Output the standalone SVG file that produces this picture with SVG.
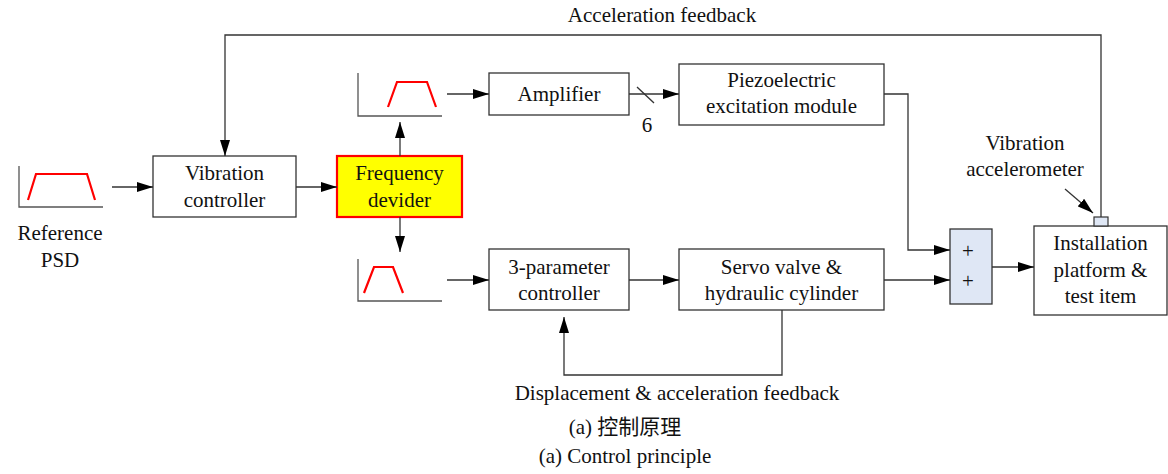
<svg xmlns="http://www.w3.org/2000/svg" width="1168" height="474" viewBox="0 0 1168 474">
  <style>
    .box { fill: #ffffff; stroke: #333333; stroke-width: 1.3; }
    .line { fill: none; stroke: #333333; stroke-width: 1.3; }
    .arrow { fill: none; stroke: #333333; stroke-width: 1.3; marker-end: url(#head); }
    .psd { fill: none; stroke: #ff0000; stroke-width: 2.2; }
    .axis { fill: none; stroke: #555555; stroke-width: 1.3; }
    text { font-family: "Liberation Serif", "Times New Roman", serif; font-size: 21px; fill: #111111; text-anchor: middle; }
    .cjk { font-family: "Liberation Serif", "Noto Sans CJK SC", serif; }
  </style>
  <defs>
    <marker id="head" viewBox="0 0 16 10" refX="16" refY="5" markerWidth="16" markerHeight="10" markerUnits="userSpaceOnUse" orient="auto">
      <path d="M0,0 L16,5 L0,10 Z" fill="#000000"/>
    </marker>
  </defs>

  <!-- reference spectrum -->
  <g id="ref-psd">
    <path class="axis" d="M19,166 V207 H103"/>
    <path class="psd" d="M28,200 L36,174 H87 L95,200"/>
    <text x="60" y="240">Reference</text>
    <text x="60" y="267">PSD</text>
  </g>

  <g id="vib-controller">
    <rect class="box" x="153" y="156" width="143" height="61"/>
    <text x="224.5" y="180">Vibration</text>
    <text x="224.5" y="207">controller</text>
  </g>

  <g id="freq-divider">
    <rect x="337" y="156" width="125" height="61" fill="#ffff00" stroke="#ff0000" stroke-width="2.2"/>
    <text x="399.5" y="180">Frequency</text>
    <text x="399.5" y="207">devider</text>
  </g>

  <g id="psd-high">
    <path class="axis" d="M358,73 V116 H442"/>
    <path class="psd" d="M388,107 L397,82 H427 L436,107"/>
  </g>

  <g id="psd-low">
    <path class="axis" d="M358,259 V301 H442"/>
    <path class="psd" d="M364,293 L374,267 H393 L403,293"/>
  </g>

  <g id="amplifier">
    <rect class="box" x="489" y="73" width="140" height="42"/>
    <text x="559" y="101">Amplifier</text>
  </g>

  <g id="piezo">
    <rect class="box" x="679" y="64" width="205" height="61"/>
    <text x="781.5" y="87">Piezoelectric</text>
    <text x="781.5" y="113">excitation module</text>
  </g>

  <g id="three-param">
    <rect class="box" x="489" y="249" width="140" height="61"/>
    <text x="559" y="274">3-parameter</text>
    <text x="559" y="300">controller</text>
  </g>

  <g id="servo">
    <rect class="box" x="679" y="249" width="205" height="61"/>
    <text x="781.5" y="274">Servo valve &amp;</text>
    <text x="781.5" y="300">hydraulic cylinder</text>
  </g>

  <g id="summer">
    <rect x="950" y="229" width="42" height="75" fill="#dfe7f5" stroke="#333333" stroke-width="1.3"/>
    <text x="968" y="258">+</text>
    <text x="968" y="288">+</text>
  </g>

  <g id="platform">
    <rect class="box" x="1034" y="226" width="133" height="89"/>
    <text x="1100.5" y="250">Installation</text>
    <text x="1100.5" y="277">platform &amp;</text>
    <text x="1100.5" y="303">test item</text>
  </g>

  <g id="accelerometer">
    <rect x="1094" y="217" width="14" height="9" fill="#dfe7f5" stroke="#333333" stroke-width="1.2"/>
    <text x="1025" y="150">Vibration</text>
    <text x="1025" y="176">accelerometer</text>
  </g>

  <g id="connectors">
    <path class="arrow" d="M112,187 H153"/>
    <path class="arrow" d="M296,187 H337"/>
    <path class="arrow" d="M400,156 V122"/>
    <path class="arrow" d="M400,217 V252"/>
    <path class="arrow" d="M447,94 H489"/>
    <path class="arrow" d="M447,280 H489"/>
    <path class="arrow" d="M629,94 H679"/>
    <path class="line" d="M637,87 L654,103"/>
    <text x="647" y="132">6</text>
    <path class="arrow" d="M629,280 H679"/>
    <path class="arrow" d="M884,94 H908 V250 H950"/>
    <path class="arrow" d="M884,280 H950"/>
    <path class="arrow" d="M992,267 H1034"/>
    <path class="arrow" d="M1101,217 V35 H225 V156"/>
    <text x="662" y="22">Acceleration feedback</text>
    <path class="arrow" d="M1065,189 L1093,213"/>
    <path class="arrow" d="M782,310 V375 H564 V317"/>
    <text x="677" y="400">Displacement &amp; acceleration feedback</text>
  </g>

  <g id="caption">
    <text class="cjk" x="625" y="434">(a) 控制原理</text>
    <text x="625" y="463">(a) Control principle</text>
  </g>
</svg>
